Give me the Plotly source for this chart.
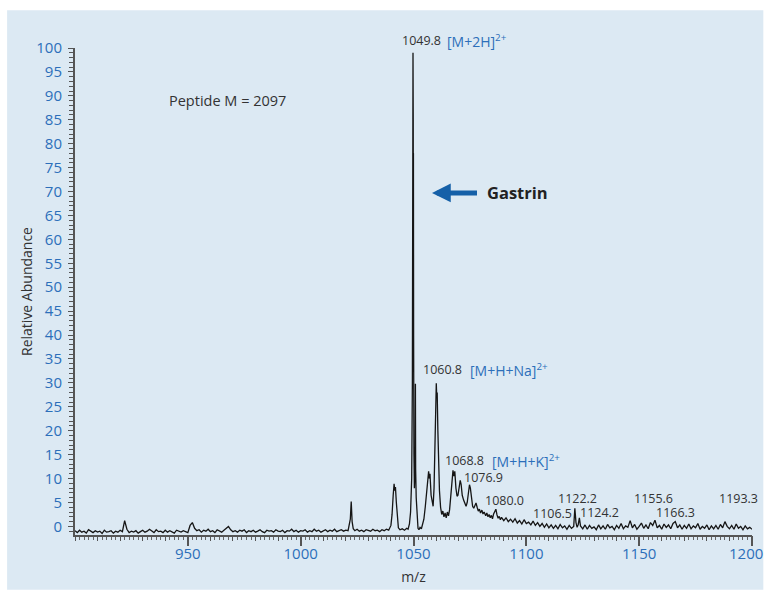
import plotly.graph_objects as go

# ---------------- data ----------------
mz = [
    900, 901, 902, 903, 904, 905, 906, 907, 908, 909, 910, 911, 912, 913, 914, 915, 916, 917, 918, 919,
    920, 921, 922, 923, 924, 925, 926, 927, 928, 929, 930, 931, 932, 933, 934, 935, 936, 937, 938, 939,
    940, 941, 942, 943, 944, 945, 946, 947, 948, 949, 950, 951, 952, 953, 954, 955, 956, 957, 958, 959,
    960, 961, 962, 963, 964, 965, 966, 967, 968, 969, 970, 971, 972, 973, 974, 975, 976, 977, 978, 979,
    980, 981, 982, 983, 984, 985, 986, 987, 988, 989, 990, 991, 992, 993, 994, 995, 996, 997, 998, 999,
    1000, 1001, 1002, 1003, 1004, 1005, 1006, 1007, 1008, 1009, 1010, 1011, 1012, 1013, 1014, 1015,
    1016, 1017, 1018, 1019, 1020, 1021, 1022, 1022.4, 1022.8, 1023.3, 1024, 1025, 1026, 1027, 1028,
    1029, 1030, 1031, 1032, 1033, 1034, 1035, 1036, 1037, 1038, 1039, 1040, 1040.5, 1041, 1041.4,
    1041.7, 1042, 1042.4, 1042.8, 1043.3, 1044, 1045, 1046, 1047, 1047.6, 1048.2, 1048.7, 1049.2,
    1049.5, 1049.7, 1049.78, 1049.82, 1049.88, 1049.92, 1049.97, 1050.05, 1050.2, 1050.4, 1050.6,
    1050.75, 1050.85, 1050.95, 1051.2, 1051.6, 1052.0, 1052.4, 1052.9, 1053.5, 1054.0, 1054.6, 1055.2,
    1055.8, 1056.3, 1056.7, 1057.0, 1057.3, 1057.8, 1058.3, 1058.7, 1059.1, 1059.5, 1059.8, 1060.1,
    1060.3, 1060.5, 1060.8, 1061.1, 1061.5, 1062.0, 1062.5, 1063.0, 1063.5, 1064.0, 1064.5, 1065.0,
    1065.5, 1066.0, 1066.5, 1067.0, 1067.5, 1067.9, 1068.3, 1068.8, 1069.3, 1069.7, 1070.2, 1070.7,
    1071.1, 1071.6, 1072.2, 1072.8, 1073.3, 1073.8, 1074.3, 1074.8, 1075.2, 1075.7, 1076.2, 1076.7,
    1077.2, 1077.7, 1078.2, 1078.7, 1079.2, 1079.7, 1080.3, 1080.8, 1081.3, 1082, 1082.5, 1083,
    1083.5, 1084, 1084.5, 1085, 1085.5, 1086, 1086.5, 1087, 1087.5, 1088, 1088.5, 1089, 1090, 1091,
    1092, 1093, 1094, 1095, 1096, 1097, 1098, 1099, 1100, 1101, 1102, 1103, 1104, 1105, 1106, 1107,
    1108, 1109, 1110, 1111, 1112, 1113, 1114, 1115, 1116, 1117, 1118, 1119, 1120, 1121, 1121.5, 1122,
    1122.5, 1123, 1123.5, 1124, 1125, 1126, 1127, 1128, 1129, 1130, 1131, 1132, 1133, 1134, 1135,
    1136, 1137, 1138, 1139, 1140, 1141, 1142, 1143, 1144, 1145, 1146, 1147, 1148, 1149, 1150, 1151,
    1152, 1153, 1154, 1155, 1156, 1157, 1158, 1159, 1160, 1161, 1162, 1163, 1164, 1165, 1166, 1167,
    1168, 1169, 1170, 1171, 1172, 1173, 1174, 1175, 1176, 1177, 1178, 1179, 1180, 1181, 1182, 1183,
    1184, 1185, 1186, 1187, 1188, 1189, 1190, 1191, 1192, 1193, 1194, 1195, 1196, 1197, 1198, 1199,
    1200,
]

abundance = [
    -0.9, -1.3, -0.8, -1.2, -1.0, -1.4, -0.7, -1.1, -1.3, -0.9, -1.2, -1.0, -1.5, -0.8, -1.2, -1.1, -0.9, -1.4, -1.0, -1.2,
    -0.8, -1.1, 1.2, -0.6, -1.3, -1.0, -1.2, -0.9, -1.4, -1.1, -0.8, -1.2, -1.0, -0.6, -0.9, -1.3, -0.7, -1.1, -1.0, -1.3,
    -0.8, -1.2, -0.9, -1.1, -1.4, -0.8, -1.0, -1.2, -0.9, -1.1, -1.3, 0.2, 0.8, -0.4, -0.9, -0.7, -1.2, -0.8, -1.0, -0.6,
    -1.1, -0.9, -1.3, -0.7, -1.0, -1.2, -0.8, -0.4, 0.0, -0.7, -1.1, -0.9, -1.2, -0.8, -1.0, -0.7, -1.3, -0.9, -1.1, -0.8,
    -1.2, -1.0, -0.7, -1.1, -1.3, -0.8, -1.0, -0.9, -1.2, -0.7, -1.0, -1.1, -0.8, -1.3, -0.9, -1.0, -0.6, -1.1, -0.8, -1.2,
    -0.9, -1.0, -0.7, -1.2, -0.9, -1.1, -0.6, -1.0, -0.8, -1.2, -0.9, -0.7, -1.1, -0.8, -1.0, -0.6,
    -1.1, -0.9, -0.7, -1.0, -0.8, -0.9, 1.5, 5.2, 1.0, -0.5, -0.9, -0.6, -1.0, -0.8, -1.1,
    -0.7, -0.9, -1.0, -0.6, -0.9, -0.8, -1.1, -0.7, -0.9, -0.6, -0.8, 0.2, 2.5, 6.5, 8.9,
    7.5, 8.2, 5.0, 1.5, -0.3, -0.7, -0.5, -0.8, -0.4, -0.6, 0.5, 3.0, 10.0,
    30.0, 62.0, 99.0, 60.0, 85.0, 50.0, 78.0, 40.0, 15.0, 8.0, 11.0,
    13.2, 29.8, 12.0, 6.0, 1.5, -0.4, -0.7, -0.2, -0.5, 0.3, 1.5, 4.0,
    7.5, 9.5, 11.5, 10.0, 11.0, 6.5, 4.5, 4.2, 8.0, 16.0, 24.0, 29.9,
    27.0, 28.0, 20.0, 14.0, 7.5, 4.0, 2.5, 3.2, 2.0, 2.8, 1.8, 3.0,
    2.2, 3.5, 6.0, 9.0, 11.7, 10.5, 11.5, 8.0, 6.3, 6.5, 8.5, 9.6,
    8.8, 6.5, 5.5, 4.5, 4.2, 5.0, 7.0, 8.7, 8.0, 6.0, 4.2, 3.8,
    4.5, 4.9, 4.0, 3.2, 3.6, 2.8, 3.4, 2.6, 3.0, 2.2, 2.8, 2.0,
    2.5, 1.8, 2.3, 1.6, 2.6, 3.1, 3.6, 2.4, 1.7, 2.1, 1.4, 1.9, 1.2, 1.8,
    1.0, 1.5, 0.9, 1.6, 0.7, 1.2, 0.5, 1.4, 0.6, 0.9, 0.3, 1.1, 0.2, 0.8, 0.0, 0.6,
    -0.2, 0.5, -0.3, 0.3, -0.4, 0.2, -0.5, 0.4, -0.3, 0.1, -0.6, 0.2, -0.4, 0.0, 3.8, 0.8,
    -0.2, 0.4, 1.8, 0.1, -0.5, 0.3, -0.6, 0.2, -0.4, -0.1, -0.7, 0.3, -0.5, 0.1, -0.6,
    0.4, -0.3, 0.0, -0.7, 0.2, -0.4, 0.6, -0.5, 0.1, -0.2, 1.2, -0.3, 0.4, -0.6, 0.0, 0.7,
    -0.4, 0.3, -0.5, 0.8, 0.2, 1.3, -0.3, 0.2, -0.6, 0.5, -0.2, 0.3, -0.5, 0.6, 1.0, -0.3,
    0.3, -0.6, 0.2, -0.4, 0.5, -0.5, 0.1, -0.3, 0.6, -0.6, 0.0, -0.4, 0.3, -0.7, 0.1, -0.5,
    0.2, -0.6, 0.4, -0.3, 1.0, 0.0, -0.5, 0.2, -0.6, 0.5, -0.4, 0.0, -0.7, 0.1, -0.5, -0.2,
    -0.6,
]

y_ticks = list(range(0, 101, 5))
x_minor10 = list(range(900, 1201, 10))
x_major = [950, 1000, 1050, 1100, 1150, 1200]
# last label padded with no-break spaces so it stays inside the window
x_major_text = ["950", "1000", "1050", "1100", "1150", "1200\u00a0\u00a0\u00a0"]

# peak labels: (text, left m/z, y)
peak_labels = [
    ("1060.8", 1053.4, 32.7),
    ("1068.8", 1063.0, 13.7),
    ("1076.9", 1071.7, 10.2),
    ("1080.0", 1080.8, 5.4),
    ("1106.5", 1102.0, 2.6),
    ("1122.2", 1113.1, 5.8),
    ("1124.2", 1122.9, 2.9),
    ("1155.6", 1146.8, 5.8),
    ("1166.3", 1156.4, 2.9),
    ("1193.3", 1184.5, 5.8),
]
ion_labels = [
    ("[M+H+Na]<sup>2+</sup>", 1074.1, 32.7),
    ("[M+H+K]<sup>2+</sup>", 1084.0, 13.7),
]
top_label = ("1049.8", 1044.1)
top_ion = ("[M+2H]<sup>2+</sup>", 1064.1)

BLUE = "#2c6fba"
GREY = "#333333"
FONT = "Open Sans"

fig = go.Figure()
fig.add_trace(go.Scatter(x=mz, y=abundance, mode="lines",
                         line=dict(color="#151515", width=1.3),
                         hoverinfo="skip", showlegend=False))
# invisible copy to carry the 10-step medium ticks on an overlay axis
fig.add_trace(go.Scatter(x=mz, y=abundance, mode="lines", xaxis="x2",
                         line=dict(color="rgba(0,0,0,0)", width=0),
                         hoverinfo="skip", showlegend=False))

annotations = []
for t, x, y in peak_labels:
    annotations.append(dict(x=x, y=y, text=t, showarrow=False, xanchor="left",
                            yanchor="middle", font=dict(family=FONT, size=12.5, color=GREY)))
for t, x, y in ion_labels:
    annotations.append(dict(x=x, y=y, text=t, showarrow=False, xanchor="left",
                            yanchor="middle", font=dict(family=FONT, size=14, color=BLUE)))
annotations.append(dict(x=top_label[1], y=1.0144, yref="paper", text=top_label[0],
                        showarrow=False, xanchor="left", yanchor="middle",
                        font=dict(family=FONT, size=12.5, color=GREY)))
annotations.append(dict(x=top_ion[1], y=1.0144, yref="paper", text=top_ion[0],
                        showarrow=False, xanchor="left", yanchor="middle",
                        font=dict(family=FONT, size=14, color=BLUE)))
annotations.append(dict(x=940.8, y=89.1, text="Peptide M = 2097", showarrow=False,
                        xanchor="left", yanchor="middle",
                        font=dict(family=FONT, size=14.5, color=GREY)))
# Gastrin label with its arrow pointing at the main peak
annotations.append(dict(x=1058.2, y=69.7, ax=85, ay=0, text="<b>Gastrin</b>",
                        showarrow=True, arrowhead=2, arrowsize=0.75, arrowwidth=5,
                        arrowcolor="#1560a8", standoff=0, borderpad=9,
                        font=dict(family=FONT, size=16.5, color="#222222")))

fig.update_layout(
    width=766, height=593,
    margin=dict(l=75, r=14, t=48, b=58),
    paper_bgcolor="white",
    plot_bgcolor="rgba(0,0,0,0)",
    font=dict(family=FONT, color=GREY),
    showlegend=False,
    annotations=annotations,
    shapes=[dict(type="rect", xref="paper", yref="paper",
                 x0=-0.1003, x1=1.0167, y0=-0.1122, y1=1.0773,
                 fillcolor="#dce9f3", line=dict(width=0), layer="below")],
    xaxis=dict(
        range=[900, 1200], showgrid=False, zeroline=False,
        showline=True, linecolor="#555555", linewidth=2,
        tickmode="array", tickvals=x_major, ticktext=x_major_text,
        ticks="outside", ticklen=9, tickwidth=1.5, tickcolor="#555555",
        minor=dict(dtick=2, ticks="outside", ticklen=3, tickwidth=1, tickcolor="#666666"),
        tickfont=dict(family=FONT, size=15, color=BLUE),
        ticklabelstandoff=-5, ticklabeloverflow="allow",
        title=dict(text="m/z", font=dict(family=FONT, size=14, color=GREY), standoff=10),
        automargin=False,
    ),
    xaxis2=dict(
        range=[900, 1200], overlaying="x", side="bottom", showgrid=False,
        zeroline=False, showline=False, tickmode="array", tickvals=x_minor10,
        showticklabels=False, ticks="outside", ticklen=5, tickwidth=1.2,
        tickcolor="#555555",
    ),
    yaxis=dict(
        range=[-1.8, 100], showgrid=False, zeroline=False,
        showline=True, linecolor="#555555", linewidth=2,
        tickmode="array", tickvals=y_ticks,
        ticks="outside", ticklen=5, tickwidth=1.3, tickcolor="#555555",
        minor=dict(dtick=1, ticks="outside", ticklen=4, tickwidth=1, tickcolor="#555555"),
        tickfont=dict(family=FONT, size=15, color=BLUE),
        ticklabelstandoff=3,
        title=dict(text="Relative Abundance", font=dict(family=FONT, size=14, color=GREY),
                   standoff=0),
        automargin=False,
    ),
)

# remove the browser's default 8px page margin so the figure fills the window
fig.write_html("out.html",
               config={"displayModeBar": False},
               post_script="document.body.style.margin='0px';"
                           "document.body.style.overflow='hidden';")
